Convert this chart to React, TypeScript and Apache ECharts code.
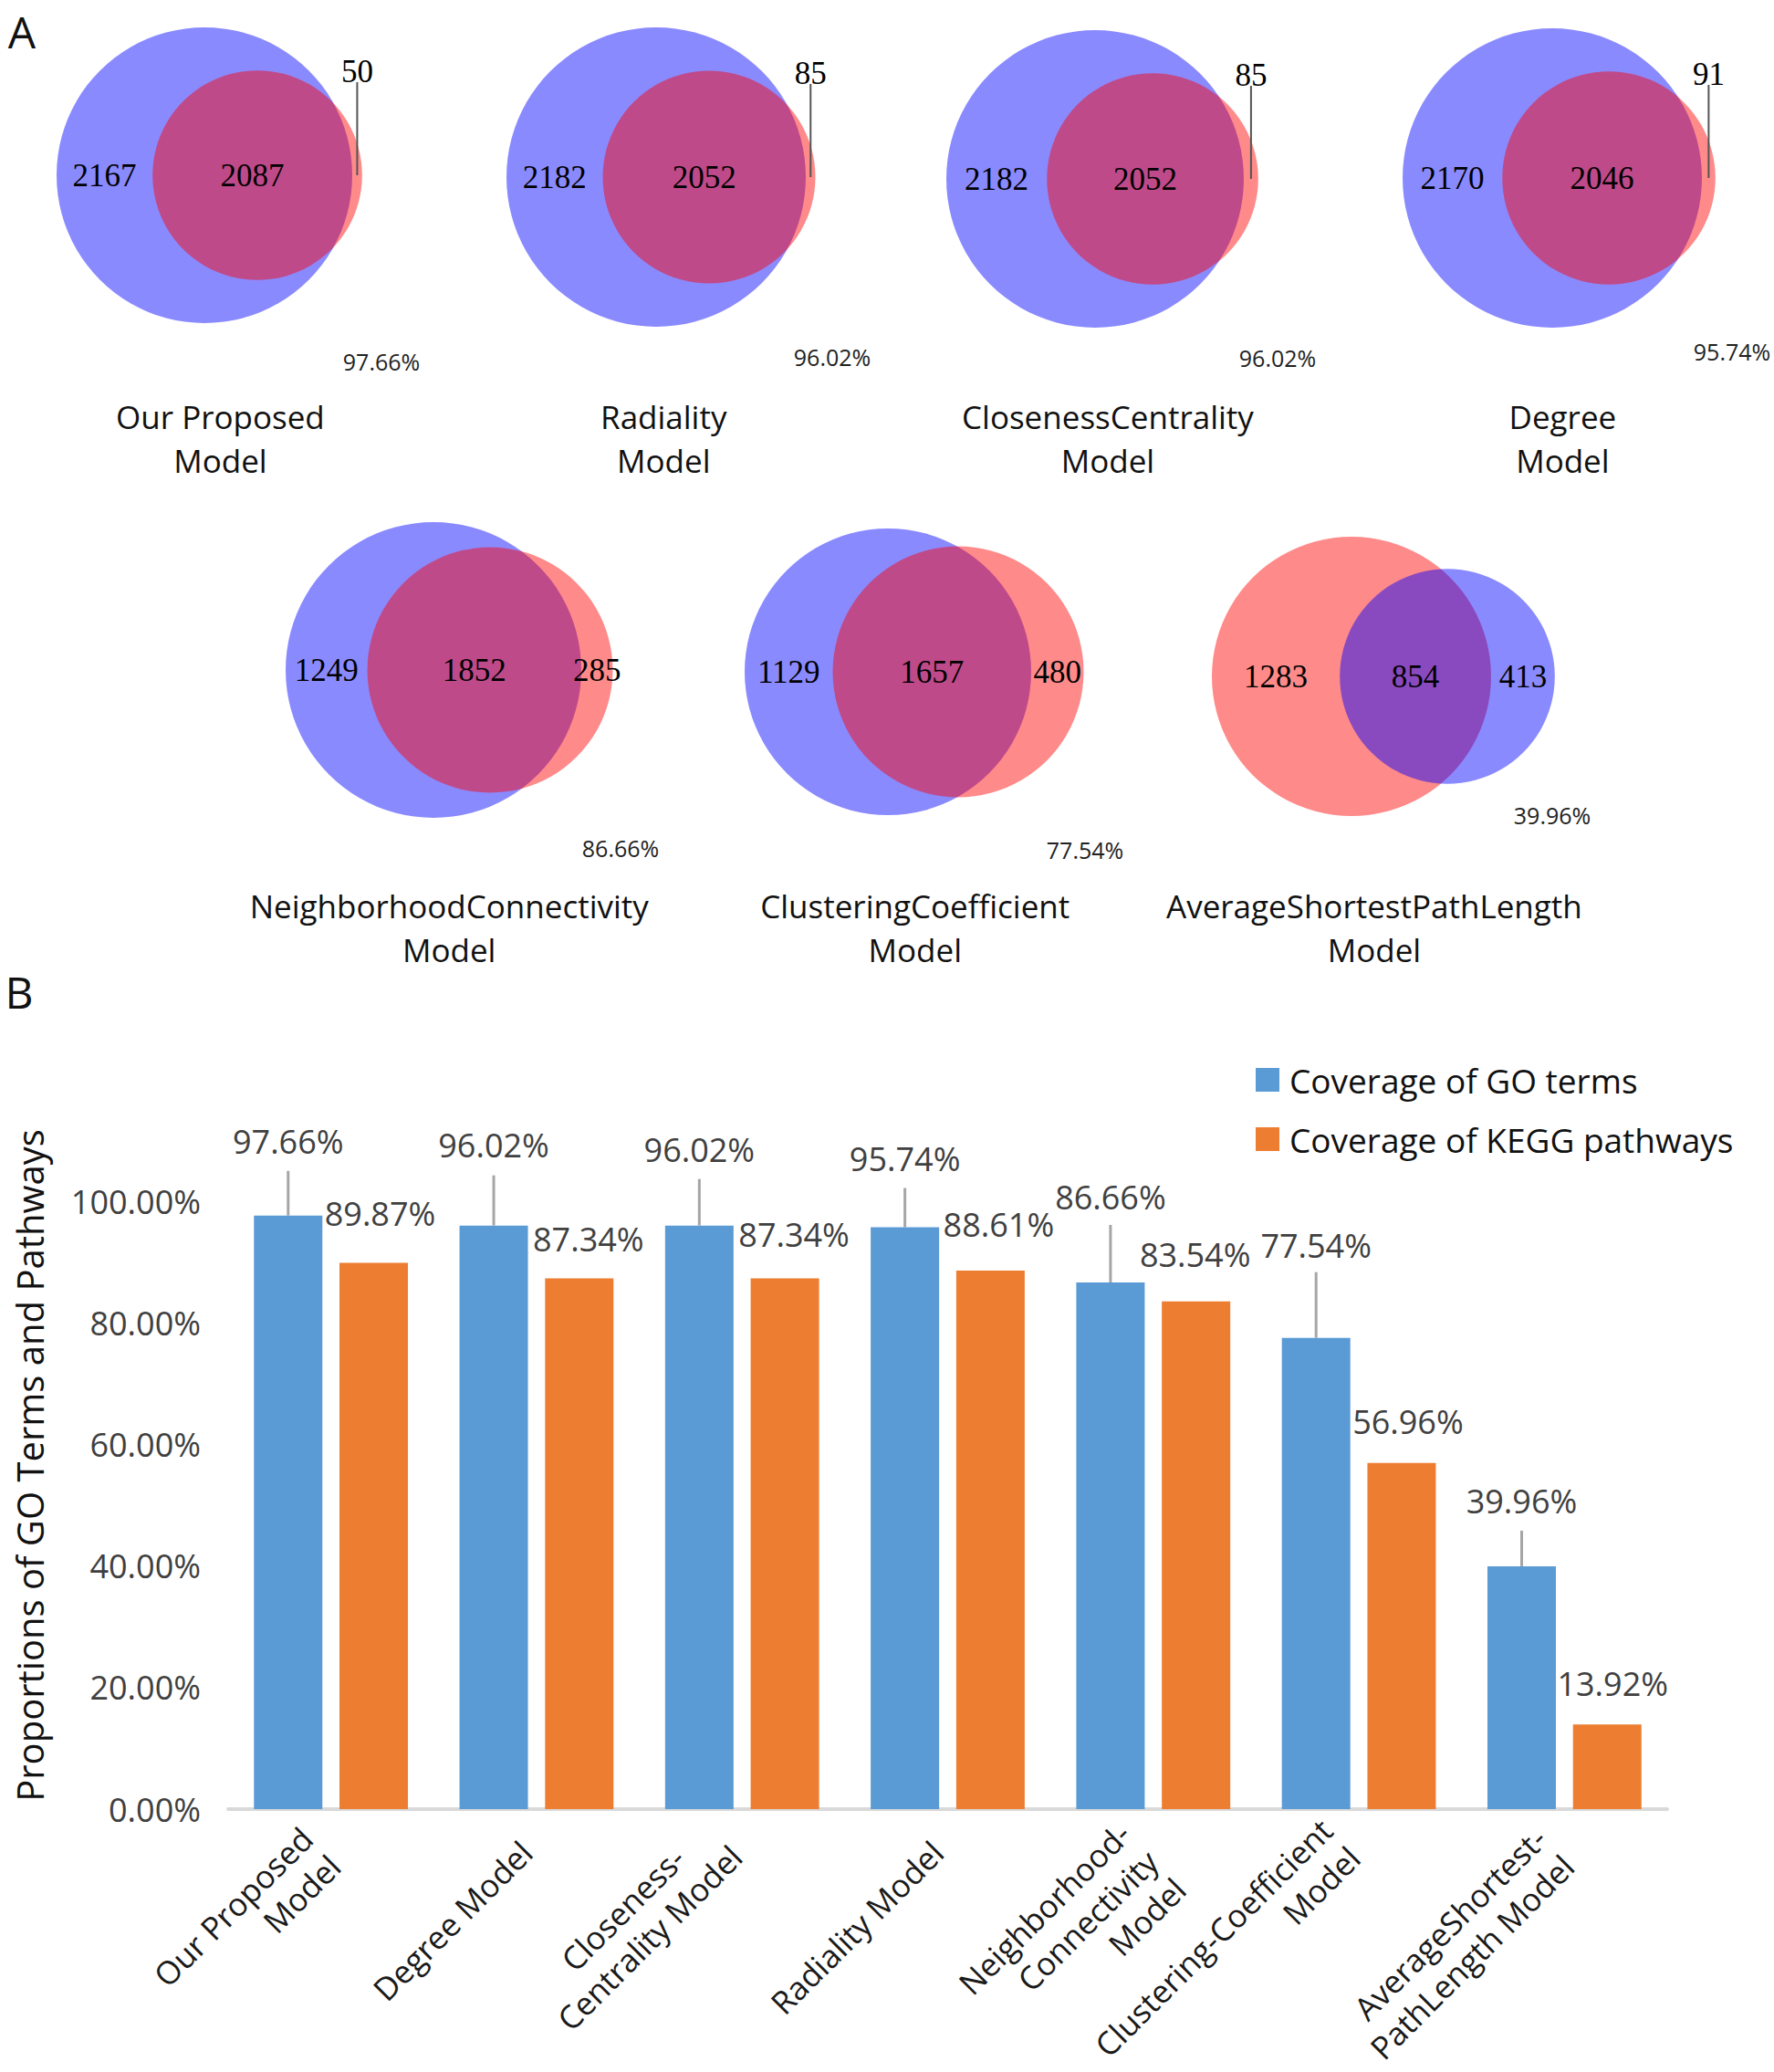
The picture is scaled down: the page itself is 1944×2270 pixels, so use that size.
import React, { useEffect, useRef } from 'react';
import * as echarts from 'echarts';

// ---------- Panel A: Venn diagram counts ----------
const vennTitles = [
  'Our Proposed\nModel',
  'Radiality\nModel',
  'ClosenessCentrality\nModel',
  'Degree\nModel',
  'NeighborhoodConnectivity\nModel',
  'ClusteringCoefficient\nModel',
  'AverageShortestPathLength\nModel',
];
const vennModelOnly = [2167, 2182, 2182, 2170, 1249, 1129, 413];
const vennShared = [2087, 2052, 2052, 2046, 1852, 1657, 854];
const vennReferenceOnly = [50, 85, 85, 91, 285, 480, 1283];
const vennCoverage = ['97.66%', '96.02%', '96.02%', '95.74%', '86.66%', '77.54%', '39.96%'];

// ---------- Panel B: bar chart ----------
const categories = [
  'Our Proposed\nModel',
  'Degree Model',
  'Closeness-\u00A0\u00A0\u00A0\u00A0\u00A0\nCentrality Model',
  'Radiality Model',
  'Neighborhood-\nConnectivity\nModel',
  'Clustering-Coefficient\nModel',
  'AverageShortest-\nPathLength Model',
];
const goCoverage = [97.66, 96.02, 96.02, 95.74, 86.66, 77.54, 39.96];
const keggCoverage = [89.87, 87.34, 87.34, 88.61, 83.54, 56.96, 13.92];
const seriesNames = ['Coverage of GO terms', 'Coverage of KEGG pathways'];

// ---------- layout (positions / sizes only) ----------
const vennLayout = [
  { cx: 224, cy: 192, r: 162, d: 58, pct: [194, 204], titleDx: 12, titleY: 480 },
  { cx: 719, cy: 194, r: 164, d: 58, pct: [193, 197], titleDx: 3, titleY: 480 },
  { cx: 1200, cy: 196, r: 163, d: 63, pct: [200, 196], titleDx: 6, titleY: 480 },
  { cx: 1701, cy: 195, r: 164, d: 62, pct: [197, 190], titleDx: 4, titleY: 480 },
  { cx: 475, cy: 734, r: 162, d: 62, pct: [205, 195], titleDx: 0, titleY: 1016 },
  { cx: 973, cy: 736, r: 157, d: 77, pct: [216, 195], titleDx: 1, titleY: 1016 },
  { cx: 1481, cy: 741, r: 153, d: 105, pct: [220, 152], titleDx: -10, titleY: 1016 },
];
const goLabelDistance = [63, 70, 65, 57, 75, 83, 53];
const goLeaderLength = [49, 55, 51, 43, 63, 72, 39];
const keggLabelDistance = [36, 25, 30, 33, 33, 27, 27];
const keggLabelDx = [7, 10, 10, 9, -1, 7, 6];
// rich-text spacer styles that nudge individual rotated tick labels (lead: moves down, trail: moves up)
const xLabelLead = ['', '', '', '', 's28', '', ''];
const xLabelTrail = ['', '', 's30', '', '', 's26', ''];
const BAR_W = 75;
const BAR_GAP = 0.25;

const BLUE_SET = 'rgba(0,0,255,0.46)';
const RED_SET = 'rgba(255,0,0,0.46)';
const SANS = '"Open Sans", "Noto Sans", sans-serif';
const SERIF = '"Liberation Serif", "DejaVu Serif", serif';

function vennRender(params: any) {
  const i = params.dataIndex;
  const L = vennLayout[i];
  const blueSize = vennModelOnly[i] + vennShared[i];
  const redSize = vennShared[i] + vennReferenceOnly[i];
  const blueBig = blueSize >= redSize;
  const bigR = L.r;
  const smallR = L.r * Math.sqrt(Math.min(blueSize, redSize) / Math.max(blueSize, redSize));
  const bigColor = blueBig ? BLUE_SET : RED_SET;
  const smallColor = blueBig ? RED_SET : BLUE_SET;
  const leftOnly = blueBig ? vennModelOnly[i] : vennReferenceOnly[i];
  const rightOnly = blueBig ? vennReferenceOnly[i] : vennModelOnly[i];
  const sx = L.cx + L.d;
  const bigLeft = L.cx - bigR;
  const bigRight = L.cx + bigR;
  const smallLeft = sx - smallR;
  const smallRight = sx + smallR;
  const cy = L.cy;
  const numStyle = (text: string) => ({
    text,
    fill: '#000',
    fontSize: 35,
    fontFamily: SERIF,
    align: 'center',
    verticalAlign: 'middle',
  });
  const children: any[] = [
    { type: 'circle', shape: { cx: L.cx, cy, r: bigR }, style: { fill: bigColor } },
    { type: 'circle', shape: { cx: sx, cy, r: smallR }, style: { fill: smallColor } },
    { type: 'text', x: (bigLeft + smallLeft) / 2, y: cy, style: numStyle(String(leftOnly)) },
    { type: 'text', x: (smallLeft + Math.min(bigRight, smallRight)) / 2, y: cy, style: numStyle(String(vennShared[i])) },
  ];
  const rx = (bigRight + smallRight) / 2;
  if (smallRight - bigRight < 25) {
    children.push({ type: 'line', shape: { x1: rx, y1: cy - 102, x2: rx, y2: cy }, style: { stroke: '#555', lineWidth: 2 } });
    children.push({ type: 'text', x: rx, y: cy - 114, style: numStyle(String(rightOnly)) });
  } else {
    children.push({ type: 'text', x: rx, y: cy, style: numStyle(String(rightOnly)) });
  }
  children.push({
    type: 'text',
    x: L.cx + L.pct[0],
    y: cy + L.pct[1],
    style: { text: vennCoverage[i], fill: '#222', fontSize: 25, fontFamily: SANS, align: 'center', verticalAlign: 'middle' },
  });
  children.push({
    type: 'text',
    x: (bigLeft + Math.max(bigRight, smallRight)) / 2 + L.titleDx,
    y: L.titleY,
    style: { text: vennTitles[i], fill: '#111', fontSize: 35, lineHeight: 48, fontFamily: SANS, align: 'center', verticalAlign: 'middle' },
  });
  return { type: 'group', children };
}

function leaderRender(params: any, api: any) {
  const p = api.coord([api.value(0), api.value(1)]);
  const x = p[0] - (BAR_W * (1 + BAR_GAP)) / 2;
  return {
    type: 'line',
    shape: { x1: x, y1: p[1], x2: x, y2: p[1] - goLeaderLength[params.dataIndex] },
    style: { stroke: '#A6A6A6', lineWidth: 3 },
  };
}

const pctFmt = (p: any) => Number(p.value).toFixed(2) + '%';
const spacer = (name: string) => `{${name}|\u00A0}`;

const option: any = {
  animation: false,
  backgroundColor: '#fff',
  graphic: [
    { type: 'text', x: 24, y: 34, style: { text: 'A', fontSize: 48, fontFamily: SANS, fill: '#111', align: 'center', verticalAlign: 'middle' } },
    { type: 'text', x: 21, y: 1086, style: { text: 'B', fontSize: 48, fontFamily: SANS, fill: '#111', align: 'center', verticalAlign: 'middle' } },
  ],
  legend: {
    data: seriesNames,
    orient: 'vertical',
    left: 1371,
    top: 1158,
    itemWidth: 26,
    itemHeight: 26,
    itemGap: 25,
    icon: 'rect',
    textStyle: { fontSize: 37, fontFamily: SANS, color: '#111', lineHeight: 40, padding: [0, 0, 0, 6] },
  },
  grid: { left: 250, right: 117, top: 1183, bottom: 288, outerBoundsMode: 'none', containLabel: false },
  xAxis: {
    type: 'category',
    data: categories,
    axisLine: { lineStyle: { color: '#D9D9D9', width: 4 } },
    axisTick: { show: false },
    axisLabel: {
      interval: 0,
      rotate: 45,
      align: 'right',
      verticalAlign: 'middle',
      fontSize: 35,
      lineHeight: 43,
      margin: 30,
      padding: [0, 16, 0, 0],
      fontFamily: SANS,
      color: '#1a1a1a',
      formatter: (value: string, idx: number) => {
        let s = value;
        if (xLabelLead[idx]) s = spacer(xLabelLead[idx]) + '\n' + s;
        if (xLabelTrail[idx]) s = s + '\n' + spacer(xLabelTrail[idx]);
        return s;
      },
      rich: {
        s26: { lineHeight: 26, fontSize: 8 },
        s28: { lineHeight: 28, fontSize: 8 },
        s30: { lineHeight: 30, fontSize: 8 },
      },
    },
  },
  yAxis: {
    type: 'value',
    min: 0,
    max: 120,
    interval: 20,
    name: 'Proportions of GO Terms and Pathways',
    nameLocation: 'middle',
    nameGap: 198,
    nameTextStyle: { fontSize: 40, lineHeight: 40, fontFamily: SANS, color: '#111', padding: [0, 46, 0, 0] },
    axisLine: { show: false },
    axisTick: { show: false },
    splitLine: { show: false },
    axisLabel: {
      showMaxLabel: false,
      fontSize: 36,
      fontFamily: SANS,
      color: '#404040',
      margin: 30,
      formatter: (v: number) => v.toFixed(2) + '%',
    },
  },
  series: [
    {
      name: seriesNames[0],
      type: 'bar',
      barWidth: BAR_W,
      barGap: BAR_GAP * 100 + '%',
      itemStyle: { color: '#5B9BD5' },
      label: { show: true, position: 'top', formatter: pctFmt, fontSize: 36, fontFamily: SANS, color: '#404040' },
      data: goCoverage.map((v, i) => ({ value: v, label: { distance: goLabelDistance[i] } })),
    },
    {
      name: seriesNames[1],
      type: 'bar',
      barWidth: BAR_W,
      itemStyle: { color: '#ED7D31' },
      label: { show: true, position: 'top', formatter: pctFmt, fontSize: 36, fontFamily: SANS, color: '#404040' },
      data: keggCoverage.map((v, i) => ({ value: v, label: { distance: keggLabelDistance[i], offset: [keggLabelDx[i], 0] } })),
    },
    {
      name: 'leaders',
      type: 'custom',
      silent: true,
      renderItem: leaderRender,
      data: goCoverage.map((v, i) => [i, v]),
      z: 3,
    },
    {
      name: 'venn',
      type: 'custom',
      coordinateSystem: 'none',
      silent: true,
      renderItem: vennRender,
      data: vennTitles.map((_, i) => [i]),
    },
  ],
};

export default function App() {
  const ref = useRef<HTMLDivElement>(null);
  useEffect(() => {
    document.body.style.margin = '0';
    const chart = echarts.init(ref.current!, null, { renderer: 'svg' });
    chart.setOption(option);
    return () => chart.dispose();
  }, []);
  return <div ref={ref} style={{ width: 1944, height: 2270 }} />;
}
